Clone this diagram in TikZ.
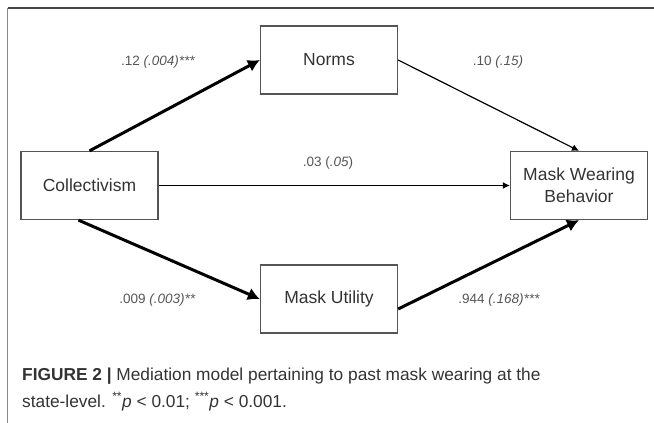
\documentclass[tikz,border=0pt]{standalone}
\usepackage{fontspec}
\setmainfont{Liberation Sans}
\usetikzlibrary{arrows.meta}

\definecolor{boxgray}{HTML}{555555}
\definecolor{textgray}{HTML}{333333}
\definecolor{labelgray}{HTML}{555555}
\definecolor{framedark}{HTML}{444444}
\definecolor{framelight}{HTML}{888888}

\begin{document}
\begin{tikzpicture}[
    x=1pt, y=-1pt, % Work in pixels from the top left
    >=Latex,
    % Styles
    var/.style={ % Variable box
        rectangle,
        draw=boxgray,
        line width=1.3pt,
        minimum width=137pt,
        minimum height=68pt,
        align=center,
        text=textgray,
        font=\fontsize{17.5}{22}\selectfont
    },
    coef/.style={ % Path coefficients
        text=labelgray,
        font=\fontsize{13.5}{16}\selectfont
    },
    arrow/.style={ % Thin paths
        -{Latex[length=7pt,width=7pt]},
        line width=1.2pt
    },
    arrowsig/.style={ % Thick (significant) paths
        -{Latex[length=12pt,width=13pt]},
        line width=3pt
    },
    caption/.style={ % Figure caption lines
        anchor=base west,
        inner sep=0pt,
        text=textgray,
        font=\fontsize{17.3}{20}\selectfont
    },
    frame/.style={ % Figure frame
        line width=1.4pt
    }
]
    \useasboundingbox (0,0) rectangle (654,423);

    % Frame
    \coordinate (ftl) at (7.5,8);
    \coordinate (ftr) at (654,8);
    \coordinate (fbl) at (7.5,423);
    \draw [frame, framelight] (ftl) -- (fbl);
    \draw [frame, framedark] (ftl) -- (ftr);

    % Variables
    \node [var] (coll) at (89.5,185.5) {Collectivism};
    \node [var] (norms) at (329,60) {Norms};
    \node [var] (util) at (329,299) {Mask Utility};
    \node [var] (mwb) at (579,185.5) {Mask Wearing\\Behavior};

    % Paths
    \draw [arrowsig] (coll.north) -- (norms.west);
    \draw [arrow] (norms.east) -- (mwb.north);
    \draw [arrow] (coll.east) -- (mwb.west);
    \draw [arrowsig] ([xshift=-11pt]coll.south) -- (util.west);
    \draw [arrowsig] ([yshift=-10pt]util.east) -- (mwb.south);

    % Coefficients
    \node [coef] (cnorms) at (158,62) {.12 \textit{(.004)***}};
    \node [coef] (cnb) at (498,62) {.10 \textit{(.15)}};
    \node [coef] (cdirect) at (328,163) {.03 (\textit{.05})};
    \node [coef] (cutil) at (157.5,300) {.009 \textit{(.003)**}};
    \node [coef] (cub) at (499,300) {.944 \textit{(.168)***}};

    % Caption
    \node [caption] (cap1) at (22,380) {\textbf{FIGURE 2 |} Mediation model pertaining to past mask wearing at the};
    \node [caption] (cap2) at (22,407) {state-level. \textsuperscript{**}\textit{p} < 0.01; \textsuperscript{***}\textit{p} < 0.001.};
\end{tikzpicture}
\end{document}
